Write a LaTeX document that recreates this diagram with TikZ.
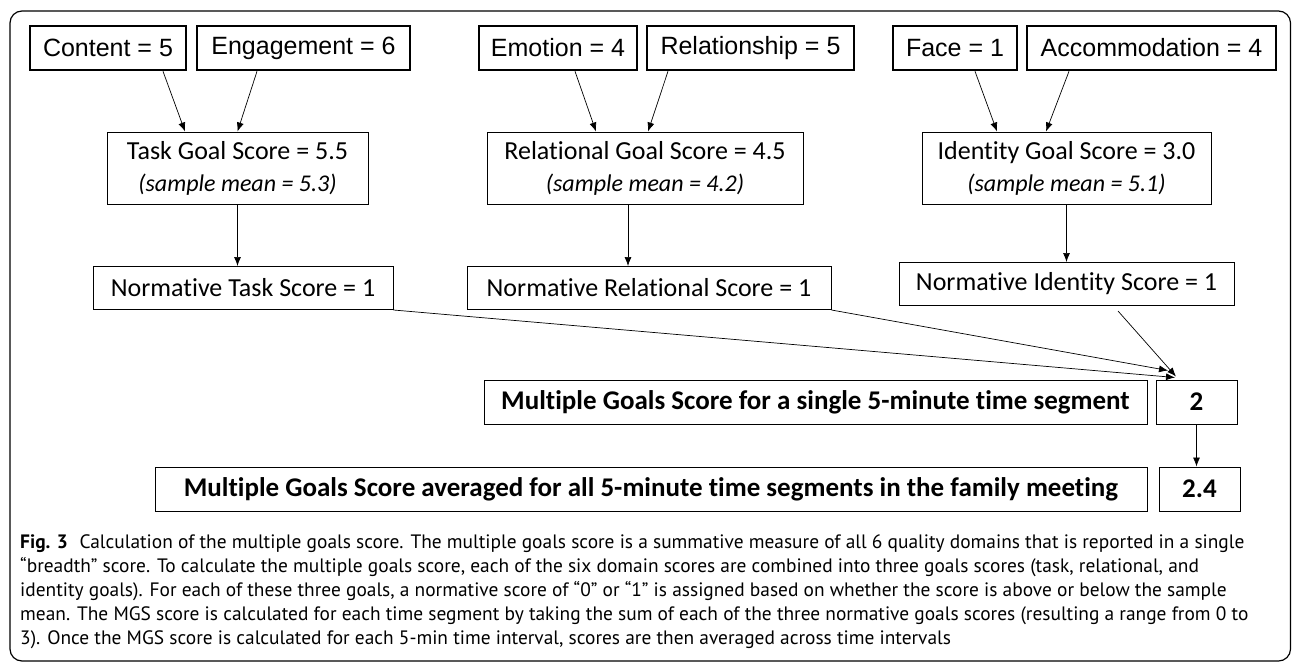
\documentclass[tikz,border=0pt]{standalone}
\usepackage{fontspec}
\usepackage{tikz}
\usetikzlibrary{shapes, arrows.meta, positioning, calc}
\newfontfamily\arialfont{Liberation Sans}
\newfontfamily\calfont[Ligatures=NoCommon]{Carlito}
\newfontfamily\capfont{PT Sans}

\begin{document}
\begin{tikzpicture}[
    x=1pt, y=-1pt,
    topbox/.style={rectangle, draw, line width=2.6pt, minimum height=44pt, inner xsep=2pt,
        font=\arialfont\fontsize{25}{30}\selectfont},
    goalbox/.style={rectangle, draw, line width=1pt, minimum height=72pt, inner xsep=2pt, align=center,
        font=\calfont\fontsize{26}{32}\selectfont},
    normbox/.style={rectangle, draw, line width=1pt, minimum height=43pt, inner xsep=2pt,
        font=\calfont\fontsize{26}{30}\selectfont},
    mgsbox/.style={rectangle, draw, line width=1pt, minimum height=44pt, inner xsep=2pt,
        font=\calfont\bfseries\fontsize{27}{30}\selectfont},
    arr/.style={-{Latex[length=9pt, width=7pt]}, line width=0.7pt}
]
    \useasboundingbox (0,0) rectangle (1292,662);
    \draw[line width=1.2pt, rounded corners=12pt] (10,11) rectangle (1290.5,661);

    % Domain scores
    \node[topbox, minimum width=156pt] (content) at (108,48) {Content = 5};
    \node[topbox, minimum width=213pt] (engage) at (303.5,48) {Engagement = 6};
    \node[topbox, minimum width=158pt] (emotion) at (558,48) {Emotion = 4};
    \node[topbox, minimum width=207pt] (relation) at (750.5,48) {Relationship = 5};
    \node[topbox, minimum width=124pt] (face) at (955,48) {Face = 1};
    \node[topbox, minimum width=249pt] (accom) at (1151.5,48) {Accommodation = 4};

    % Goal scores
    \node[goalbox, minimum width=261pt] (task) at (237.5,168)
        {Task Goal Score = 5.5\\{\itshape\fontsize{24}{28}\selectfont (sample mean = 5.3)}};
    \node[goalbox, minimum width=316pt] (relgoal) at (645,168)
        {Relational Goal Score = 4.5\\{\itshape\fontsize{24}{28}\selectfont (sample mean = 4.2)}};
    \node[goalbox, minimum width=289pt] (idgoal) at (1066.5,168)
        {Identity Goal Score = 3.0\\{\itshape\fontsize{24}{28}\selectfont (sample mean = 5.1)}};

    % Normative scores
    \node[normbox, minimum width=300pt] (ntask) at (243,288) {Normative Task Score = 1};
    \node[normbox, minimum width=364pt] (nrel) at (649,288) {Normative Relational Score = 1};
    \node[normbox, minimum width=335pt] (nid) at (1066.5,284) {Normative Identity Score = 1};

    % Multiple goals score
    \node[mgsbox, minimum width=663pt] (seg) at (815.5,402) {Multiple Goals Score for a single 5-minute time segment};
    \node[mgsbox, minimum width=81pt] (two) at (1196.5,402) {2};
    \node[mgsbox, minimum width=992pt] (avg) at (651,489) {Multiple Goals Score averaged for all 5-minute time segments in the family meeting};
    \node[mgsbox, minimum width=81pt] (val) at (1199.5,489) {2.4};

    % Connections
    \draw[arr] ([xshift=55pt]content.south) -- ([xshift=-52.5pt]task.north);
    \draw[arr] ([xshift=-46.5pt]engage.south) -- (task.north);
    \draw[arr] ([xshift=17pt]emotion.south) -- ([xshift=-49pt]relgoal.north);
    \draw[arr] ([xshift=-82.5pt]relation.south) -- ([xshift=3pt]relgoal.north);
    \draw[arr] ([xshift=20pt]face.south) -- ([xshift=-69.5pt]idgoal.north);
    \draw[arr] ([xshift=-82.5pt]accom.south) -- ([xshift=-20.5pt]idgoal.north);

    \draw[arr] (task.south) -- (task.south |- ntask.north);
    \draw[arr] ([xshift=-17pt]relgoal.south) -- ([xshift=-17pt]relgoal.south |- nrel.north);
    \draw[arr] (idgoal.south) -- (idgoal.south |- nid.north);

    \draw[arr] (ntask.south east) -- ([xshift=-21.5pt, yshift=2pt]two.north);
    \draw[arr] (nrel.south east) -- ([xshift=-28.5pt, yshift=9pt]two.north);
    \draw[arr] ([xshift=51.5pt, yshift=-5pt]nid.south) -- ([xshift=-20.5pt, yshift=3pt]two.north);
    \draw[arr] (two.south) -- (two.south |- val.north);

    % Caption
    \node[anchor=north west, align=left, inner sep=0pt, font=\capfont\fontsize{19.4}{24}\selectfont] (caption) at (20,534)
        {\textbf{Fig. 3}\hspace{0.6em}Calculation of the multiple goals score. The multiple goals score is a summative measure of all 6 quality domains that is reported in a single\\
        “breadth” score. To calculate the multiple goals score, each of the six domain scores are combined into three goals scores (task, relational, and\\
        identity goals). For each of these three goals, a normative score of “0” or “1” is assigned based on whether the score is above or below the sample\\
        mean. The MGS score is calculated for each time segment by taking the sum of each of the three normative goals scores (resulting a range from 0 to\\
        3). Once the MGS score is calculated for each 5-min time interval, scores are then averaged across time intervals};
\end{tikzpicture}
\end{document}
